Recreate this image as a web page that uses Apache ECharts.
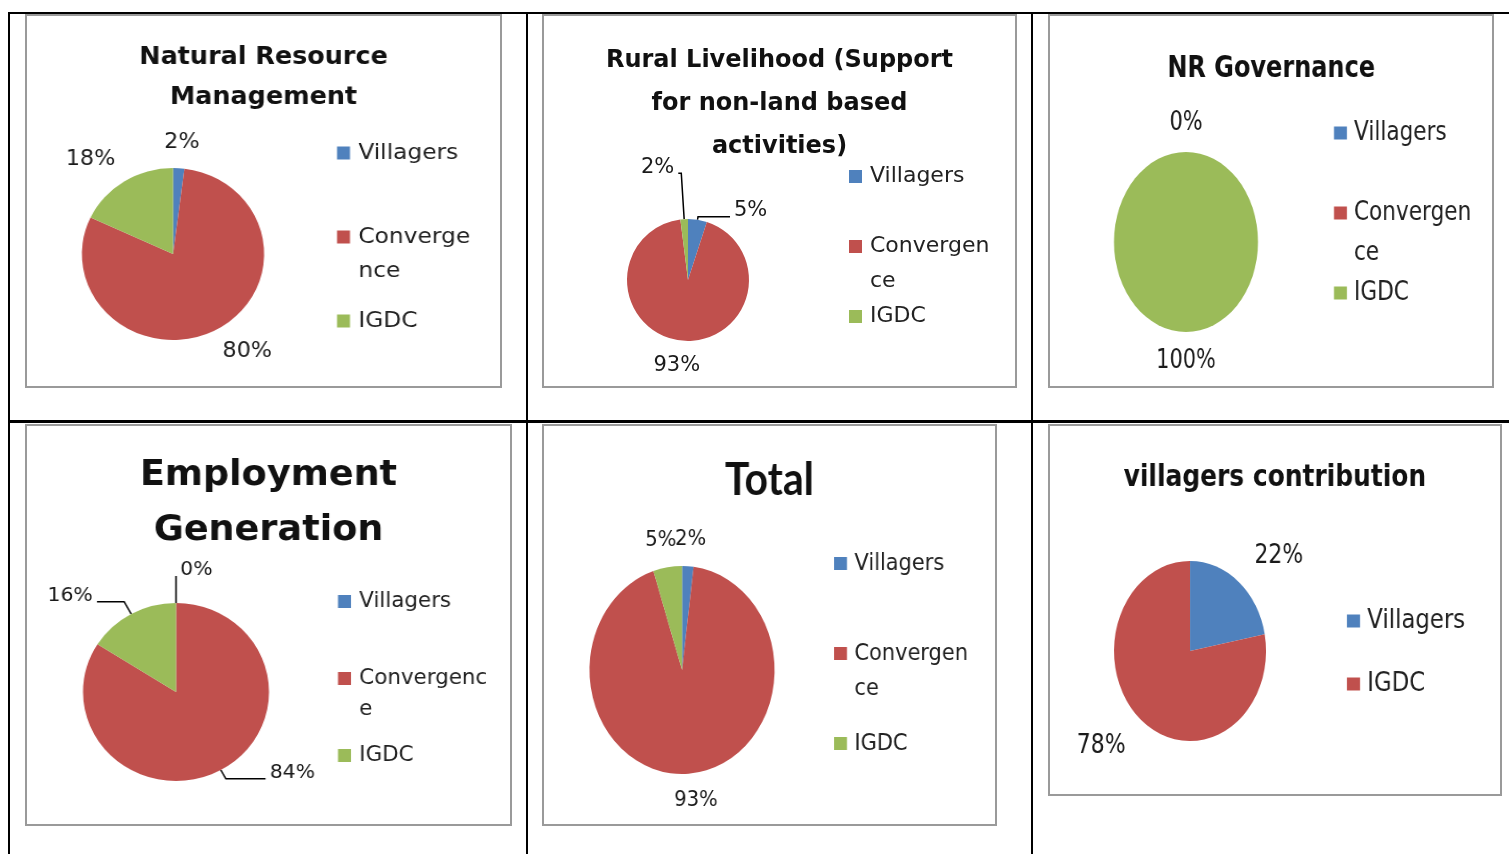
<!DOCTYPE html>
<html>
<head>
<meta charset="utf-8">
<script src="https://cdn.jsdelivr.net/npm/echarts@6/dist/echarts.min.js"></script>
<style>
	html, body { margin: 0; padding: 0; background: #fff; }
	#page { position: relative; width: 1509px; height: 854px; overflow: hidden; background: #fff; }
	.rule { position: absolute; background: #000; }
	.box { position: absolute; overflow: hidden; outline: 2px solid #9a9a9a; outline-offset: -2px; }
	.plot { position: absolute; left: 0; top: 0; height: 100%; transform-origin: 0 0; }
</style>
</head>
<body>
<div id="page">
	<div class="rule" style="left:8px;top:12px;width:1501px;height:2px"></div>
	<div class="rule" style="left:8px;top:12px;width:2px;height:842px"></div>
	<div class="rule" style="left:526px;top:12px;width:2px;height:842px"></div>
	<div class="rule" style="left:1031px;top:12px;width:2px;height:842px"></div>
	<div class="rule" style="left:8px;top:420px;width:1501px;height:3px"></div>

	<div class="box" id="c1" style="left:25px;top:14px;width:477px;height:374px"></div>
	<div class="box" id="c2" style="left:542px;top:14px;width:475px;height:374px"></div>
	<div class="box" id="c3" style="left:1048px;top:14px;width:446px;height:374px"></div>
	<div class="box" id="c4" style="left:25px;top:424px;width:487px;height:402px"></div>
	<div class="box" id="c5" style="left:542px;top:424px;width:455px;height:402px"></div>
	<div class="box" id="c6" style="left:1048px;top:424px;width:454px;height:372px"></div>
</div>
<script>
// data
const categories = ['Villagers', 'Convergence', 'IGDC']
const contribCategories = ['Villagers', 'IGDC']

const nrmValues = [2, 80, 18]
const livelihoodValues = [5, 93, 2]
const governanceValues = [0, 0, 100]
const employmentValues = [0, 84, 16]
const totalValues = [2, 93, 5]
const contribValues = [22, 78]

const chartTitles = [
	'Natural Resource\nManagement',
	'Rural Livelihood (Support\nfor non-land based\nactivities)',
	'NR Governance',
	'Employment\nGeneration',
	'Total',
	'villagers contribution'
]

const BLUE = '#4f81bd'
const RED = '#c0504d'
const GREEN = '#9bbb59'
const FONT = 'DejaVu Sans'

const initPie = (id, title, names, values, colors, look) => {
	const box = document.getElementById(id)
	const sx = look.sx || 1
	// the source pictures are stretched sideways, so draw unstretched and scale the plot
	const chartDom = document.createElement('div')
	chartDom.className = 'plot'
	chartDom.style.width = box.clientWidth / sx + 'px'
	chartDom.style.transform = 'scaleX(' + sx + ')'
	box.appendChild(chartDom)
	const myChart = echarts.init(chartDom)

	const wrapName = (name) => {
		if (look.wrap && name.length > 10) {
			// leading blank line keeps the square level with the first line
			return '\n' + name.slice(0, look.wrap) + '\n' + name.slice(look.wrap)
		}
		return name
	}
	const lined = names.map((n, i) => !!(look.lines && look.lines[i]))
	const data = names.map((name, i) => {
		const lens = lined[i] ? look.lines[i] : [look.len, 0]
		return {
			name: name,
			value: values[i],
			itemStyle: { color: colors[i] },
			label: { show: !(look.hideLabel && look.hideLabel[i]) },
			labelLine: {
				show: true,
				length: lens[0],
				length2: lens[1],
				lineStyle: { opacity: lined[i] ? 1 : 0 }
			}
		}
	})
	const options = {
		animation: false,
		title: {
			text: title,
			left: 'center',
			top: look.titleTop,
			padding: 0,
			textStyle: {
				fontFamily: look.titleFont || FONT,
				fontSize: look.titleSize,
				fontWeight: 'bold',
				lineHeight: look.titleLH,
				color: '#111'
			}
		},
		legend: {
			orient: 'vertical',
			left: look.legendLeft / sx,
			top: look.legendTop,
			padding: 0,
			itemGap: look.legendGap,
			icon: 'rect',
			itemWidth: 13 / sx,
			itemHeight: 13,
			selectedMode: false,
			data: names,
			formatter: wrapName,
			textStyle: {
				fontFamily: FONT,
				fontSize: look.legendSize,
				lineHeight: look.legendLH,
				padding: [0, 0, 0, 3 / sx],
				color: '#222'
			}
		},
		series: [
			{
				type: 'pie',
				center: [look.center[0] / sx, look.center[1]],
				radius: look.radius,
				startAngle: 90,
				clockwise: true,
				avoidLabelOverlap: false,
				silent: true,
				label: {
					position: 'outside',
					distanceToLabelLine: 3,
					fontFamily: FONT,
					fontSize: look.labelSize,
					color: '#1a1a1a',
					formatter: (p) => Math.round(p.percent) + '%'
				},
				labelLine: {
					lineStyle: { color: '#000', width: 1.5 }
				},
				// labels without a leader line sit out along the radial, as in the source
				labelLayout: (p) => {
					const pts = p.labelLinePoints
					if (!pts) return {}
					const ux0 = pts[1][0] - pts[0][0]
					const uy0 = pts[1][1] - pts[0][1]
					const n = Math.hypot(ux0, uy0) || 1
					const ux = ux0 / n
					const uy = uy0 / n
					if (lined[p.dataIndex]) {
						const side = ux > -0.01 ? 1 : -1
						const end = pts[pts.length - 1]
						return {
							x: end[0] + side * 4,
							y: end[1] + (look.lineLift || 0),
							align: side > 0 ? 'left' : 'right',
							verticalAlign: 'middle',
							labelLinePoints: pts
						}
					}
					const w = p.labelRect.width
					const h = p.labelRect.height
					return {
						x: pts[1][0] + ux * w * 0.95,
						y: pts[1][1] + uy * h / 2,
						align: 'center',
						verticalAlign: 'middle',
						labelLinePoints: pts
					}
				},
				data: data
			}
		]
	}
	myChart.setOption(options)
	return myChart
}

initPie('c1', chartTitles[0], categories, nrmValues, [BLUE, RED, GREEN], {
	sx: 1.06, titleSize: 24, titleLH: 40, titleTop: 24,
	center: [148, 240], radius: 86,
	legendLeft: 312, legendTop: 122, legendGap: 16, legendLH: 34, legendSize: 22, wrap: 8,
	labelSize: 21, len: 15
})

initPie('c2', chartTitles[1], categories, livelihoodValues, [BLUE, RED, GREEN], {
	sx: 1, titleSize: 24, titleLH: 43, titleTop: 25,
	center: [146, 266], radius: 61,
	legendLeft: 307, legendTop: 145, legendGap: 0, legendLH: 35, legendSize: 22, wrap: 9,
	labelSize: 21, len: 14, lineLift: -6,
	lines: [[3, 32], null, [46, 3]]
})

initPie('c3', chartTitles[2], categories, governanceValues, [BLUE, RED, GREEN], {
	sx: 0.8, titleSize: 30, titleLH: 36, titleTop: 37,
	center: [138, 228], radius: 90,
	legendLeft: 286, legendTop: 99, legendGap: 0, legendLH: 40, legendSize: 27, wrap: 9,
	labelSize: 26, len: 16,
	hideLabel: [false, true, false]
})

initPie('c4', chartTitles[3], categories, employmentValues, [BLUE, RED, GREEN], {
	sx: 1.045, titleSize: 35, titleLH: 55, titleTop: 24,
	center: [151, 268], radius: 89,
	legendLeft: 313, legendTop: 162, legendGap: 15, legendLH: 31, legendSize: 20.5, wrap: 10,
	labelSize: 19.5, len: 12, lineLift: -6,
	lines: [[27, 0], [10, 38], [14, 26]]
})

initPie('c5', chartTitles[4], categories, totalValues, [BLUE, RED, GREEN], {
	sx: 0.89, titleFont: 'Lato', titleSize: 46, titleLH: 50, titleTop: 31,
	center: [140, 246], radius: 104,
	legendLeft: 292, legendTop: 122, legendGap: 20, legendLH: 35, legendSize: 23.5, wrap: 9,
	labelSize: 22, len: 16
})

initPie('c6', chartTitles[5], contribCategories, contribValues, [BLUE, RED], {
	sx: 0.845, titleSize: 29.5, titleLH: 40, titleTop: 34,
	center: [142, 227], radius: 90,
	legendLeft: 299, legendTop: 182, legendGap: 33, legendLH: 30, legendSize: 27,
	labelSize: 26, len: 20
})
</script>
</body>
</html>
